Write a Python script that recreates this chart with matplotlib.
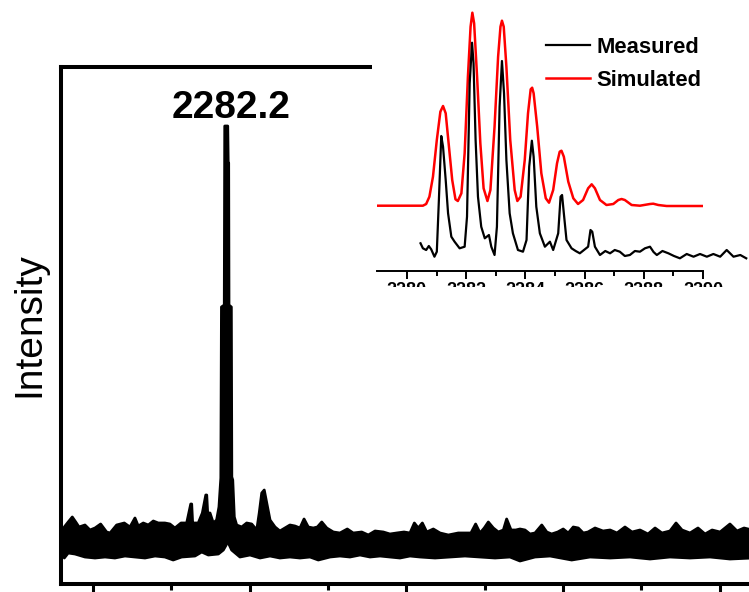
import numpy as np
import matplotlib
matplotlib.use("Agg")
import matplotlib.pyplot as plt
from matplotlib.patches import Rectangle
from matplotlib.ticker import FixedLocator, NullLocator

plt.rcParams['font.family'] = ['Liberation Sans', 'DejaVu Sans']

# ---------------- main spectrum (m/z, intensity, arbitrary units) ----------------
main_upper_mz = [1247, 1272, 1298, 1320, 1341, 1379, 1411, 1443, 1479, 1517, 1539, 1581, 1630, 1666,
                 1698, 1719, 1751, 1783, 1815, 1847, 1889, 1921, 1953, 1992, 2028, 2054, 2060, 2066,
                 2076, 2102, 2128, 2150, 2156, 2162, 2177, 2198, 2219, 2234, 2246, 2250, 2268, 2271,
                 2290, 2293, 2296, 2298, 2313, 2316, 2322, 2332,
                 2347, 2379, 2411, 2443, 2475, 2491, 2507, 2523, 2539, 2560, 2592, 2623, 2655, 2687,
                 2719, 2751, 2777, 2804, 2836, 2862, 2890, 2922, 2964, 3006, 3053, 3091, 3145, 3187,
                 3230, 3283, 3325, 3368, 3415, 3453, 3481, 3506, 3532, 3560, 3602, 3645, 3698, 3761,
                 3804, 3842, 3872, 3900, 3927, 3953, 3985, 4017, 4049, 4070, 4098, 4128, 4155, 4187,
                 4219, 4251, 4294, 4326, 4357, 4396, 4431, 4463, 4495, 4527, 4559, 4589, 4634, 4685,
                 4730, 4774, 4825, 4870, 4921, 4972, 5017, 5061, 5112, 5151, 5189, 5240, 5291, 5336,
                 5381, 5432, 5495, 5540, 5585, 5636]
main_upper_int = [73, 78, 83, 78, 73, 75, 70, 72, 76, 68, 67, 75, 77, 73,
                  82, 74, 77, 75, 79, 77, 77, 76, 72, 77, 77, 96, 96, 77,
                  77, 77, 87, 105, 105, 87, 87, 77, 80, 93, 122, 293, 295, 474,
                  474, 437, 437, 295, 293, 123, 120, 83,
                  75, 73, 77, 76, 70, 87, 107, 110, 97, 80, 73, 69, 72, 75,
                  74, 72, 81, 73, 72, 73, 78, 72, 68, 67, 71, 67, 68, 65,
                  69, 68, 66, 67, 68, 67, 77, 72, 77, 68, 71, 67, 65, 67,
                  67, 67, 76, 67, 72, 78, 72, 68, 70, 81, 70, 70, 71, 70,
                  66, 67, 75, 68, 66, 68, 71, 67, 73, 72, 67, 68, 72, 69,
                  70, 67, 73, 68, 70, 66, 72, 67, 69, 77, 70, 67, 72, 66,
                  70, 68, 76, 69, 72, 70]
main_lower_mz = [1247, 1272, 1315, 1379, 1443, 1507, 1570, 1634, 1698, 1762, 1826, 1889, 1942, 1996,
                 2081, 2124, 2166, 2230, 2262, 2280, 2290, 2300, 2315, 2368, 2432, 2496, 2560, 2623,
                 2687, 2751, 2815, 2868, 2943, 3006, 3070, 3134, 3198, 3262, 3325, 3389, 3453, 3517,
                 3613, 3708, 3804, 3900, 3996, 4091, 4155, 4251, 4347, 4485, 4602, 4730, 4857, 4985,
                 5112, 5240, 5368, 5495, 5636]
main_lower_int = [42, 47, 46, 43, 42, 43, 42, 44, 43, 42, 44, 43, 40, 43,
                  44, 48, 45, 46, 50, 55, 60, 55, 50, 43, 45, 42, 44, 42,
                  43, 42, 43, 40, 43, 44, 43, 45, 43, 44, 43, 42, 44, 43,
                  42, 43, 44, 43, 42, 43, 39, 43, 44, 40, 43, 42, 43, 41,
                  43, 42, 43, 41, 42]
main_major_ticks = [1430, 2430, 3430, 4430, 5430]
main_minor_ticks = [1930, 2930, 3930, 4930]
peak_label = "2282.2"
peak_label_pos = (2311, 482)
y_label = "Intensity"

# ---------------- inset: isotope pattern ----------------
meas_mz = [2280.46, 2280.54, 2280.65, 2280.74, 2280.82, 2280.93, 2281.01, 2281.08, 2281.16, 2281.22,
           2281.31, 2281.39, 2281.50, 2281.61, 2281.78, 2281.95, 2282.03, 2282.12, 2282.20, 2282.25,
           2282.32, 2282.40, 2282.51, 2282.63, 2282.77, 2282.85, 2282.96, 2283.04, 2283.13, 2283.21,
           2283.28, 2283.36, 2283.47, 2283.58, 2283.75, 2283.92, 2284.04, 2284.13, 2284.22, 2284.28,
           2284.37, 2284.49, 2284.66, 2284.83, 2284.94, 2285.11, 2285.19, 2285.24, 2285.30, 2285.39,
           2285.56, 2285.70, 2285.84, 2285.98, 2286.12, 2286.20, 2286.26, 2286.35, 2286.52, 2286.70,
           2286.86, 2287.02, 2287.19, 2287.36, 2287.53, 2287.70, 2287.87, 2288.04, 2288.21, 2288.33,
           2288.44, 2288.63, 2288.83, 2289.02, 2289.22, 2289.45, 2289.68, 2289.90, 2290.13, 2290.35,
           2290.58, 2290.80, 2291.03, 2291.26, 2291.46]
meas_int = [56.7, 51.7, 50.0, 54.0, 50.7, 43.3, 48.3, 100.0, 164.0, 153.3,
            120.0, 86.7, 63.3, 58.3, 51.7, 53.3, 83.3, 216.7, 257.3, 236.7,
            160.0, 103.3, 73.3, 61.7, 65.0, 53.3, 45.0, 73.3, 193.3, 239.0,
            206.7, 140.0, 86.7, 66.7, 50.0, 48.3, 60.0, 133.3, 159.3, 143.3,
            93.3, 66.7, 53.3, 58.3, 50.0, 66.7, 103.3, 105.0, 86.7, 60.0,
            51.7, 49.0, 46.7, 50.0, 53.3, 70.0, 68.3, 53.3, 45.0, 49.0,
            46.7, 50.0, 48.3, 44.0, 45.0, 49.0, 48.3, 51.7, 53.3, 48.0,
            45.0, 49.0, 46.7, 44.0, 41.7, 46.0, 43.3, 46.0, 43.3, 46.0,
            43.3, 50.0, 43.3, 45.0, 41.7]
sim_mz = [2278.98, 2280.54, 2280.65, 2280.76, 2280.88, 2281.01, 2281.13, 2281.22, 2281.31, 2281.42,
          2281.53, 2281.64, 2281.72, 2281.84, 2281.95, 2282.06, 2282.15, 2282.21, 2282.27, 2282.37,
          2282.48, 2282.59, 2282.72, 2282.82, 2282.96, 2283.08, 2283.16, 2283.21, 2283.27, 2283.36,
          2283.49, 2283.64, 2283.73, 2283.84, 2283.98, 2284.09, 2284.18, 2284.23, 2284.28, 2284.40,
          2284.54, 2284.69, 2284.80, 2284.94, 2285.07, 2285.16, 2285.22, 2285.30, 2285.45, 2285.62,
          2285.78, 2285.95, 2286.12, 2286.24, 2286.35, 2286.52, 2286.74, 2286.97, 2287.14, 2287.25,
          2287.36, 2287.59, 2287.87, 2288.21, 2288.32, 2288.49, 2288.77, 2290.00]
sim_int = [94.3, 94.3, 96.0, 103.3, 123.3, 160.0, 188.3, 194.0, 186.7, 153.3,
           120.0, 100.7, 99.0, 106.7, 146.7, 223.3, 273.3, 287.3, 276.7, 223.3,
           156.7, 111.7, 99.0, 110.0, 173.3, 243.3, 273.3, 279.3, 273.3, 233.3,
           160.0, 110.0, 99.0, 103.3, 140.0, 186.7, 210.7, 212.3, 206.7, 173.3,
           126.7, 101.7, 97.3, 110.0, 136.7, 148.3, 149.3, 143.3, 118.3, 101.7,
           96.0, 100.0, 111.7, 115.7, 111.7, 100.0, 95.0, 96.0, 100.0, 101.0,
           100.0, 95.0, 94.3, 96.0, 96.3, 95.0, 94.0, 94.0]
inset_major_ticks = [2280, 2282, 2284, 2286, 2288, 2290]
inset_minor_ticks = [2281, 2283, 2285, 2287, 2289]
legend_labels = ["Measured", "Simulated"]

# ---------------- figure ----------------
W, H = 749, 592
fig = plt.figure(figsize=(W / 100, H / 100), dpi=100)
fig.patch.set_facecolor('white')

def fx(px):
    return px / W

def fy(py):
    return 1 - py / H

# main axes (extends beyond the right edge like the cropped original)
ax = fig.add_axes([fx(61), fy(584), fx(800) - fx(61), fy(67) - fy(584)])
ax.set_zorder(0)
poly_x = np.concatenate([main_upper_mz, main_lower_mz[::-1]])
poly_y = np.concatenate([main_upper_int, main_lower_int[::-1]])
ax.fill(poly_x, poly_y, facecolor='black', edgecolor='black', linewidth=2.0, joinstyle='round')
ax.set_xlim(1226, 5942)
ax.set_ylim(16, 533)
for s in ['left', 'top', 'bottom', 'right']:
    ax.spines[s].set_linewidth(2.9)
ax.xaxis.set_major_locator(FixedLocator(main_major_ticks))
ax.xaxis.set_minor_locator(FixedLocator(main_minor_ticks))
ax.yaxis.set_major_locator(NullLocator())
ax.tick_params(axis='x', which='major', direction='out', length=9, width=2.2, labelbottom=False)
ax.tick_params(axis='x', which='minor', direction='out', length=4.5, width=2.2)
ax.text(peak_label_pos[0], peak_label_pos[1], peak_label, ha='center', va='baseline',
        fontsize=28, fontweight='bold')
fig.text(fx(29), fy(325), y_label, rotation=90, ha='center', va='center', fontsize=28)

# white area behind inset (covers main top spine)
fig.patches.append(Rectangle((fx(372), fy(271)), 1 - fx(372), fy(0) - fy(271),
                             transform=fig.transFigure, facecolor='white', edgecolor='none',
                             zorder=1))

# inset
axi = fig.add_axes([fx(377.3), fy(271), fx(703) - fx(377.3), fy(0) - fy(271)])
axi.set_zorder(2)
axi.patch.set_alpha(0)
axi.plot(sim_mz, sim_int, color='#ff0000', lw=1.8, label=legend_labels[1], zorder=2)
axi.plot(meas_mz, meas_int, color='black', lw=1.6, label=legend_labels[0], clip_on=False, zorder=3)
axi.set_xlim(2279, 2290)
axi.set_ylim(29, 300)
for s in ['left', 'top', 'right']:
    axi.spines[s].set_visible(False)
axi.spines['bottom'].set_linewidth(1.4)
axi.xaxis.set_major_locator(FixedLocator(inset_major_ticks))
axi.xaxis.set_minor_locator(FixedLocator(inset_minor_ticks))
axi.yaxis.set_major_locator(NullLocator())
axi.tick_params(axis='x', which='major', direction='out', length=6, width=1.4, pad=2,
                labelsize=13)
axi.tick_params(axis='x', which='minor', direction='out', length=3.5, width=1.4)
for lab in axi.get_xticklabels():
    lab.set_fontweight('bold')

h_sim, h_meas = axi.get_lines()[0], axi.get_lines()[1]
fig.legend([h_meas, h_sim], legend_labels, loc='upper left',
           bbox_to_anchor=(fx(546), fy(37)), bbox_transform=fig.transFigure,
           frameon=False, prop={'size': 15.8, 'weight': 'bold'}, handlelength=2.0,
           handletextpad=0.3, labelspacing=0.55, borderpad=0, borderaxespad=0)

# the original's inset tick labels are cut off
fig.patches.append(Rectangle((fx(372), fy(330)), 1 - fx(372), fy(287) - fy(330),
                             transform=fig.transFigure, facecolor='white', edgecolor='none',
                             zorder=10))

fig.savefig('out.png', dpi=100)
